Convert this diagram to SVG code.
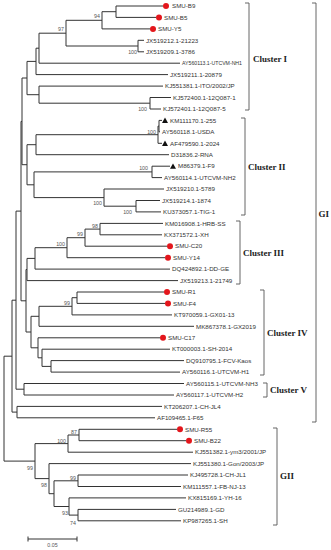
<svg xmlns="http://www.w3.org/2000/svg" width="331" height="550" viewBox="0 0 331 550">
<style>
.br{fill:none;stroke:#333;stroke-width:1}
.bk{fill:none;stroke:#555;stroke-width:0.9}
.lb{font-family:"Liberation Sans",Arial,sans-serif;font-size:6.2px;fill:#333}
.bs{font-family:"Liberation Sans",Arial,sans-serif;font-size:5.3px;fill:#555;text-anchor:end}
.cl{font-family:"Liberation Serif","Times New Roman",serif;font-size:9px;font-weight:bold;fill:#222}
.dot{fill:#e3161c}
.tri{fill:#111}
</style>
<rect width="331" height="550" fill="#fff"/>
<g id="connectors" class="br">
<path d="M12 356.2H4V461.1H35"/>
<path d="M16 300.2H12V412.1H17"/>
<path d="M21 211.1H16V389.2H24"/>
<path d="M162 406.4H17V417.8H155"/>
<path d="M184 383.5H24V395H174"/>
<path d="M22 121.4H21V300.8H26"/>
<path d="M27 78H22V164.7H27"/>
<path d="M36 61.4H27V94.7H39"/>
<path d="M39 48.2H36V74.6H168"/>
<path d="M66 33.2H39V63.2H180"/>
<path d="M102 20.3H66V46H138"/>
<path d="M116 11.7H102V28.9H150"/>
<path d="M163 6H116V17.4H156"/>
<path d="M144 40.3H138V51.8H144"/>
<path d="M163 86.1H39V103.2H150"/>
<path d="M171 97.5H150V109H161"/>
<path d="M36 144.7H27V184.8H34"/>
<path d="M158 134.7H36V154.7H169"/>
<path d="M159 126.1H158V143.3H162"/>
<path d="M162 120.4H159V131.8H160"/>
<path d="M152 171.9H34V197.6H104"/>
<path d="M170 166.2H152V177.6H162"/>
<path d="M164 189H104V206.2H136"/>
<path d="M160 200.5H136V211.9H161"/>
<path d="M27 269.5H26V332H31"/>
<path d="M35 258.4H27V280.6H178"/>
<path d="M67 247.7H35V269.1H170"/>
<path d="M85 237.7H67V257.7H165"/>
<path d="M100 229.1H85V246.2H167"/>
<path d="M163 223.4H100V234.8H162"/>
<path d="M39 316.3H31V347.8H38"/>
<path d="M72 306.3H39V326.3H194"/>
<path d="M77 297.7H72V314.9H172"/>
<path d="M164 292H77V303.4H165"/>
<path d="M160 337.8H38V357.8H42"/>
<path d="M170 349.2H42V366.4H51"/>
<path d="M184 360.6H51V372.1H180"/>
<path d="M68 443.6H35V478.6H49"/>
<path d="M79 435H68V452.2H193"/>
<path d="M177 429.3H79V440.7H186"/>
<path d="M191 463.6H49V493.7H54"/>
<path d="M78 480.8H54V506.5H69"/>
<path d="M188 475H78V486.5H181"/>
<path d="M186 497.9H69V515.1H78"/>
<path d="M176 509.4H78V520.8H181"/>
</g>
<g id="leaves">
<g id="n-SMU-B9"><circle class="dot" cx="166" cy="6" r="3"/><text class="lb" x="172" y="8.2">SMU-B9</text></g>
<g id="n-SMU-B5"><circle class="dot" cx="159" cy="17.4" r="3"/><text class="lb" x="164" y="19.6">SMU-B5</text></g>
<g id="n-SMU-Y5"><circle class="dot" cx="153" cy="28.9" r="3"/><text class="lb" x="158" y="31.1">SMU-Y5</text></g>
<g id="n-JX519212"><text class="lb" x="146" y="42.5">JX519212.1-21223</text></g>
<g id="n-JX519209"><text class="lb" x="146" y="54">JX519209.1-3786</text></g>
<g id="n-AY560113"><text class="lb" x="182" y="65.4" textLength="60" lengthAdjust="spacingAndGlyphs">AY560113.1-UTCVM-NH1</text></g>
<g id="n-JX519211"><text class="lb" x="170" y="76.8">JX519211.1-20879</text></g>
<g id="n-KJ551381"><text class="lb" x="165" y="88.3">KJ551381.1-ITO/2002/JP</text></g>
<g id="n-KJ572400"><text class="lb" x="173" y="99.7">KJ572400.1-12Q087-1</text></g>
<g id="n-KJ572401"><text class="lb" x="163" y="111.2">KJ572401.1-12Q087-5</text></g>
<g id="n-KM111170"><polygon class="tri" points="162,123 168,123 165,117.6"/><text class="lb" x="170" y="122.6">KM111170.1-255</text></g>
<g id="n-AY560118"><text class="lb" x="162" y="134">AY560118.1-USDA</text></g>
<g id="n-AF479590"><polygon class="tri" points="162,145.9 168,145.9 165,140.5"/><text class="lb" x="170" y="145.5">AF479590.1-2024</text></g>
<g id="n-D31836"><text class="lb" x="171" y="156.9">D31836.2-RNA</text></g>
<g id="n-M86379"><polygon class="tri" points="170,168.8 176,168.8 173,163.4"/><text class="lb" x="178" y="168.4">M86379.1-F9</text></g>
<g id="n-AY560114"><text class="lb" x="164" y="179.8">AY560114.1-UTCVM-NH2</text></g>
<g id="n-JX519210"><text class="lb" x="166" y="191.2">JX519210.1-5789</text></g>
<g id="n-JX519214"><text class="lb" x="162" y="202.7">JX519214.1-1874</text></g>
<g id="n-KU373057"><text class="lb" x="163" y="214.1">KU373057.1-TIG-1</text></g>
<g id="n-KM016908"><text class="lb" x="165" y="225.6">KM016908.1-HRB-SS</text></g>
<g id="n-KX371572"><text class="lb" x="164" y="237">KX371572.1-XH</text></g>
<g id="n-SMU-C20"><circle class="dot" cx="170" cy="246.2" r="3"/><text class="lb" x="175" y="248.4">SMU-C20</text></g>
<g id="n-SMU-Y14"><circle class="dot" cx="168" cy="257.7" r="3"/><text class="lb" x="173" y="259.9">SMU-Y14</text></g>
<g id="n-DQ424892"><text class="lb" x="172" y="271.3">DQ424892.1-DD-GE</text></g>
<g id="n-JX519213"><text class="lb" x="180" y="282.8">JX519213.1-21749</text></g>
<g id="n-SMU-R1"><circle class="dot" cx="167" cy="292" r="3"/><text class="lb" x="172" y="294.2">SMU-R1</text></g>
<g id="n-SMU-F4"><circle class="dot" cx="168" cy="303.4" r="3"/><text class="lb" x="173" y="305.6">SMU-F4</text></g>
<g id="n-KT970059"><text class="lb" x="174" y="317.1">KT970059.1-GX01-13</text></g>
<g id="n-MK867378"><text class="lb" x="196" y="328.5">MK867378.1-GX2019</text></g>
<g id="n-SMU-C17"><circle class="dot" cx="163" cy="337.8" r="3"/><text class="lb" x="168" y="340">SMU-C17</text></g>
<g id="n-KT000003"><text class="lb" x="172" y="351.4">KT000003.1-SH-2014</text></g>
<g id="n-DQ910795"><text class="lb" x="186" y="362.8">DQ910795.1-FCV-Kaos</text></g>
<g id="n-AY560116"><text class="lb" x="182" y="374.3">AY560116.1-UTCVM-H1</text></g>
<g id="n-AY560115"><text class="lb" x="186" y="385.7" textLength="72" lengthAdjust="spacingAndGlyphs">AY560115.1-UTCVM-NH3</text></g>
<g id="n-AY560117"><text class="lb" x="176" y="397.2">AY560117.1-UTCVM-H2</text></g>
<g id="n-KT206207"><text class="lb" x="164" y="408.6">KT206207.1-CH-JL4</text></g>
<g id="n-AF109465"><text class="lb" x="157" y="420">AF109465.1-F65</text></g>
<g id="n-SMU-R55"><circle class="dot" cx="180" cy="429.3" r="3"/><text class="lb" x="185" y="431.5">SMU-R55</text></g>
<g id="n-SMU-B22"><circle class="dot" cx="189" cy="440.7" r="3"/><text class="lb" x="194" y="442.9">SMU-B22</text></g>
<g id="n-KJ551382"><text class="lb" x="195" y="454.4">KJ551382.1-ym3/2001/JP</text></g>
<g id="n-KJ551380"><text class="lb" x="193" y="465.8">KJ551380.1-Gon/2003/JP</text></g>
<g id="n-KJ495728"><text class="lb" x="190" y="477.2">KJ495728.1-CH-JL1</text></g>
<g id="n-KM111557"><text class="lb" x="183" y="488.7">KM111557.1-FB-NJ-13</text></g>
<g id="n-KX815169"><text class="lb" x="188" y="500.1">KX815169.1-YH-16</text></g>
<g id="n-GU214989"><text class="lb" x="178" y="511.6">GU214989.1-GD</text></g>
<g id="n-KP987265"><text class="lb" x="183" y="523">KP987265.1-SH</text></g>
</g>
<g id="support">
<text class="bs" x="100" y="18">94</text>
<text class="bs" x="64" y="31">97</text>
<text class="bs" x="137" y="54">100</text>
<text class="bs" x="147" y="111">100</text>
<text class="bs" x="156" y="134">100</text>
<text class="bs" x="148" y="170">100</text>
<text class="bs" x="102" y="205">100</text>
<text class="bs" x="132" y="214">100</text>
<text class="bs" x="98" y="228">98</text>
<text class="bs" x="83" y="236">99</text>
<text class="bs" x="65" y="246">100</text>
<text class="bs" x="70" y="305">99</text>
<text class="bs" x="77" y="434">87</text>
<text class="bs" x="66" y="443">100</text>
<text class="bs" x="33" y="470">99</text>
<text class="bs" x="47" y="487">98</text>
<text class="bs" x="76" y="480">99</text>
<text class="bs" x="68" y="515">93</text>
<text class="bs" x="76" y="525">74</text>
</g>
<g id="clusters">
<g id="cluster-I"><path class="bk" d="M245 3H249V110H245"/><text class="cl" x="253" y="61.5">Cluster I</text></g>
<g id="cluster-II"><path class="bk" d="M241 118H245V215H241"/><text class="cl" x="248" y="170">Cluster II</text></g>
<g id="cluster-III"><path class="bk" d="M236 221H240V284H236"/><text class="cl" x="243" y="256">Cluster III</text></g>
<g id="cluster-IV"><path class="bk" d="M260 290H264V375H260"/><text class="cl" x="267" y="336">Cluster IV</text></g>
<g id="cluster-V"><path class="bk" d="M263 383H267V397H263"/><text class="cl" x="270" y="393">Cluster V</text></g>
<g id="GI"><path class="bk" d="M312 3H316V422H312"/><text class="cl" x="318.5" y="216.5">GI</text></g>
<g id="GII"><path class="bk" d="M273 428H277V525H273"/><text class="cl" x="280" y="479">GII</text></g>
</g>
<g id="scale">
<path class="br" d="M28 539H77M28 536.5V541.5M77 536.5V541.5"/>
<text class="bs" x="52.5" y="547" style="text-anchor:middle">0.05</text>
</g>
</svg>
